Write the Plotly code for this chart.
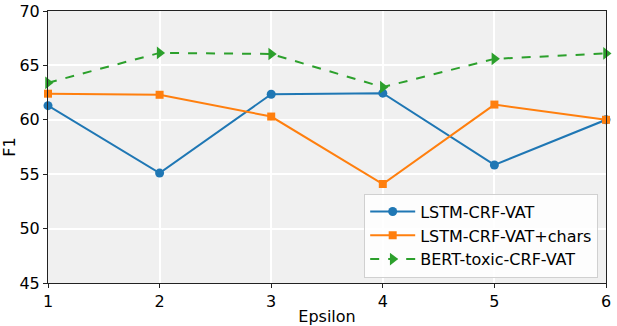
import plotly.graph_objects as go

epsilon = [1, 2, 3, 4, 5, 6]
lstm_crf_vat = [61.3, 55.1, 62.35, 62.45, 55.85, 60.0]
lstm_crf_vat_chars = [62.4, 62.3, 60.3, 54.1, 61.4, 60.0]
bert_toxic_crf_vat = [63.4, 66.15, 66.05, 63.0, 65.6, 66.1]

fig = go.Figure()
fig.add_trace(go.Scatter(x=epsilon, y=lstm_crf_vat, name="LSTM-CRF-VAT", mode="lines+markers",
                         line=dict(color="#1f77b4", width=2), marker=dict(symbol="circle", size=9),
                         cliponaxis=False))
fig.add_trace(go.Scatter(x=epsilon, y=lstm_crf_vat_chars, name="LSTM-CRF-VAT+chars", mode="lines+markers",
                         line=dict(color="#ff7f0e", width=2), marker=dict(symbol="square", size=8),
                         cliponaxis=False))
fig.add_trace(go.Scatter(x=epsilon, y=bert_toxic_crf_vat, name="BERT-toxic-CRF-VAT", mode="lines+markers",
                         line=dict(color="#2ca02c", width=2, dash="dash"), marker=dict(symbol="triangle-right", size=11),
                         cliponaxis=False))

fig.update_layout(
    width=617, height=326,
    margin=dict(l=48, r=11, t=11, b=43),
    paper_bgcolor="white", plot_bgcolor="#f0f0f0",
    font=dict(family="DejaVu Sans", size=16, color="black"),
    legend=dict(x=0.986, y=0.02, xanchor="right", yanchor="bottom",
                bgcolor="rgba(255,255,255,0.85)", bordercolor="#d0d0d0", borderwidth=1,
                font=dict(size=16), itemwidth=45, tracegroupgap=0),
    xaxis=dict(range=[1, 6], tickvals=epsilon, showgrid=True, gridcolor="white", gridwidth=2,
               showline=True, linecolor="#222", linewidth=1, mirror=True, ticks="outside",
               ticklen=4, tickcolor="#222", zeroline=False, automargin=False,
               title=dict(text="Epsilon", standoff=4, font=dict(size=16))),
    yaxis=dict(range=[45, 70], tickvals=[45, 50, 55, 60, 65, 70], showgrid=True, gridcolor="white", gridwidth=2,
               showline=True, linecolor="#222", linewidth=1, mirror=True, ticks="outside",
               ticklen=4, tickcolor="#222", zeroline=False, automargin=False,
               title=dict(text="F1", standoff=4, font=dict(size=16))),
)
fig.write_html("out.html", config={"displayModeBar": False},
               post_script="document.body.style.margin='0';document.body.style.overflow='hidden';")
